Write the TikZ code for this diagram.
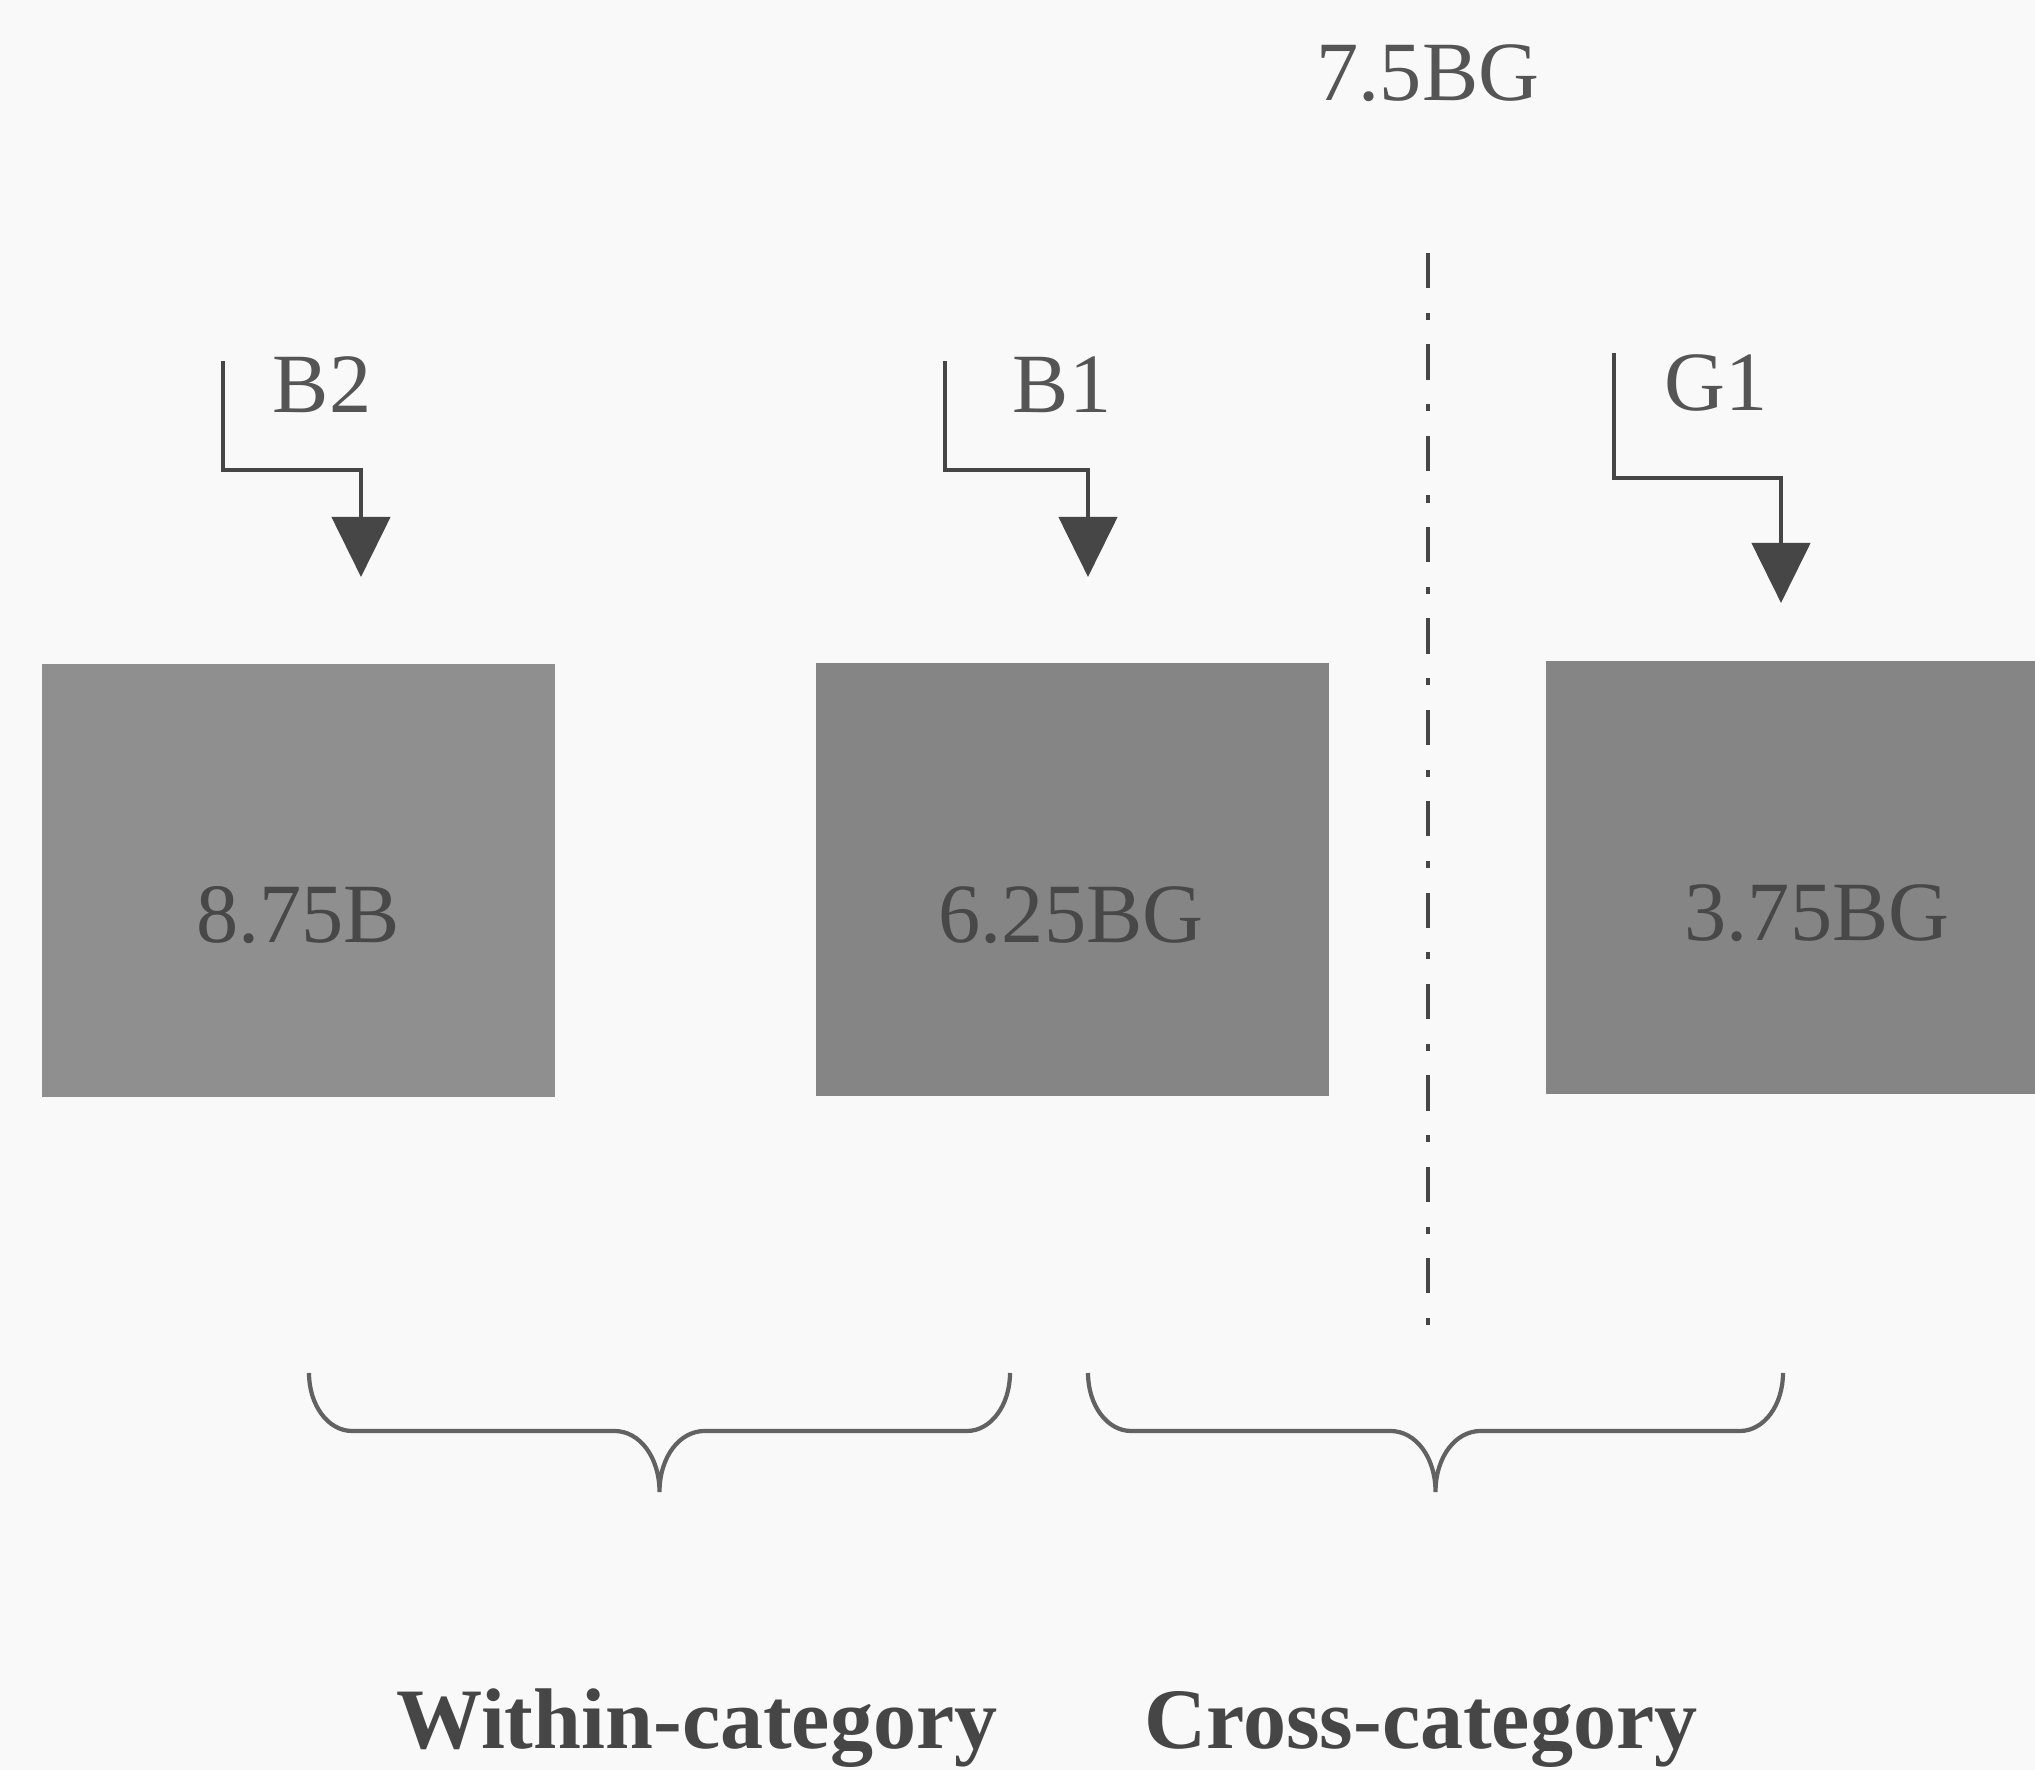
\documentclass[tikz,border=0pt]{standalone}
\usepackage{fontspec}
\setmainfont{Liberation Serif}
\usepackage{tikz}
\usetikzlibrary{arrows.meta,positioning,calc}
\definecolor{paper}{RGB}{249,249,249}
\definecolor{boxgray}{RGB}{133,133,133}
\definecolor{boxtext}{RGB}{72,72,72}
\definecolor{linegray}{RGB}{70,70,70}
\definecolor{labelgray}{RGB}{85,85,85}
\tikzset{
  cell/.style={rectangle,fill=boxgray,minimum width=5.13cm,minimum height=4.33cm,inner sep=0pt,
    font=\fontsize{24}{28}\selectfont,text=boxtext},
  cue/.style={font=\fontsize{24}{28}\selectfont,text=labelgray,anchor=base},
  cuearr/.style={-{Triangle[width=5.8mm,length=6mm]},line width=1.3pt,draw=linegray},
  divider/.style={line width=1.1pt,draw=linegray,dash pattern=on 10pt off 7pt on 2pt off 7pt},
  catbrace/.style={line width=1.2pt,draw=linegray!85},
  catlabel/.style={font=\bfseries\fontsize{24.5}{29}\selectfont,text=linegray,anchor=base}
}
\begin{document}
\begin{tikzpicture}
\useasboundingbox[fill=paper] (0,0) rectangle (20.35,17.70);

% stimuli
\node[cell,fill=boxgray!92!white] (b2box) at (2.985,8.89) {};
\node[cell] (b1box) at (10.72,8.905) {};
\node[cell] (g1box) at (18.025,8.92) {};
\node[cue,text=boxtext] (b2val) at (2.98,8.27) {8.75B};
\node[cue,text=boxtext] (b1val) at (10.71,8.27) {6.25BG};
\node[cue,text=boxtext] (g1val) at (18.17,8.29) {3.75BG};

% boundary
\node[cue] (bound) at (14.28,16.69) {7.5BG};
\coordinate (divtop) at (14.28,15.17);
\coordinate (divbot) at (14.28,4.33);
\draw[divider] (divtop) -- (divbot);

% cues
\coordinate (b2start) at (2.23,14.09);
\coordinate (b2tip) at (3.61,11.93);
\coordinate (b1start) at (9.45,14.09);
\coordinate (b1tip) at (10.88,11.93);
\coordinate (g1start) at (16.14,14.17);
\coordinate (g1tip) at (17.81,11.67);

\draw[cuearr] (b2start) |- (3.61,13.00) -- (b2tip);
\draw[cuearr] (b1start) |- (10.88,13.00) -- (b1tip);
\draw[cuearr] (g1start) |- (17.81,12.92) -- (g1tip);

\node[cue] (b2lab) at (3.22,13.57) {B2};
\node[cue] (b1lab) at (10.62,13.57) {B1};
\node[cue] (g1lab) at (17.16,13.59) {G1};

% categories
\coordinate (wl) at (3.09,3.97);
\coordinate (cl) at (10.88,3.97);
\foreach \s/\l in {wl/2.625,cl/2.595}
  \draw[catbrace] (\s)
    .. controls +(0,-0.32) and +(-0.24,0) .. ++(0.43,-0.58)
    -- ++(\l,0)
    .. controls +(0.25,0) and +(0,0.35) .. ++(0.45,-0.61)
    .. controls +(0,0.35) and +(-0.25,0) .. ++(0.45,0.61)
    -- ++(\l,0)
    .. controls +(0.24,0) and +(0,-0.32) .. ++(0.43,0.58);

\node[catlabel] (within) at (6.97,0.21) {Within-category};
\node[catlabel] (cross) at (14.21,0.21) {Cross-category};
\end{tikzpicture}
\end{document}
